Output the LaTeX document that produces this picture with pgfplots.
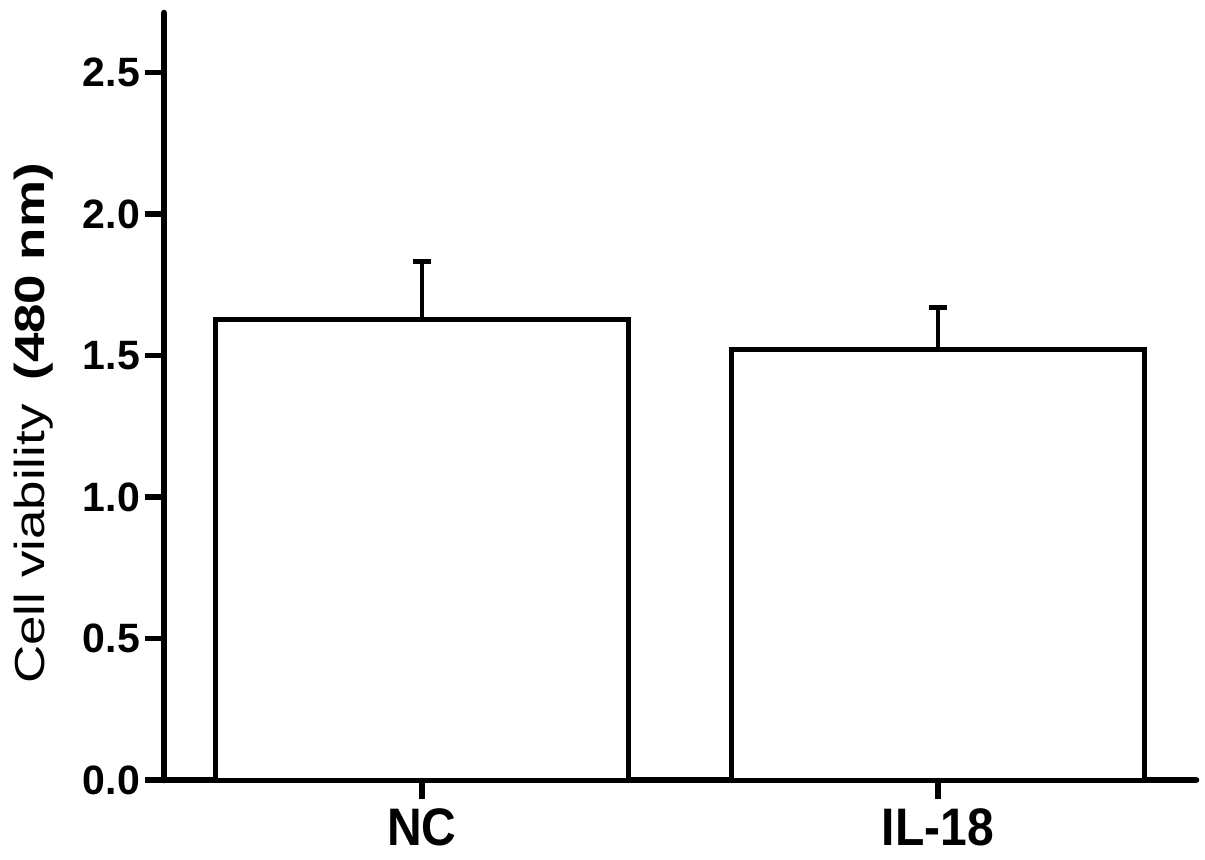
\documentclass[border=0pt]{standalone}
\usepackage{pgfplots}
\pgfplotsset{compat=1.18}
\usepackage{graphicx}
\usepackage{fontspec}
\setmainfont{Liberation Sans}
\begin{document}
\begin{tikzpicture}
\useasboundingbox (0,0) rectangle (602.5pt,429.5pt);
\begin{axis}[
  at={(82pt,39.5pt)}, anchor=south west,
  scale only axis, width=516pt, height=383.5pt,
  xmin=-0.5, xmax=1.5, ymin=0, ymax=2.71,
  axis x line*=bottom, axis y line*=left,
  axis line style={line width=3.3pt, line cap=round, -},
  xtick={0,1}, xticklabels={NC,IL-18},
  ytick={0,0.5,...,2.5},
  yticklabel style={/pgf/number format/fixed,/pgf/number format/fixed zerofill,/pgf/number format/precision=1,font=\fontsize{20.5pt}{24pt}\selectfont\bfseries, xshift=1pt},
  /pgf/number format/assume math mode=true,
  xticklabel style={font=\fontsize{24pt}{28pt}\selectfont\bfseries, yscale=1.1, yshift=-1pt},
  tick align=outside, major tick length=9.5pt,
  every tick/.style={line width=2.6pt, black},
  ylabel={\scalebox{1.26}[1]{Cell viability\hspace{0.45em}\textbf{(480 nm)}}},
  ylabel style={font=\fontsize{21pt}{24pt}\selectfont, at={(axis description cs:-0.126,0.465)}, anchor=center, rotate=0},
  ybar, bar width=0.8,
  clip=false,
]
\addplot[draw=black, fill=white, line width=2.5pt,
  error bars/.cd, y dir=plus, y explicit,
  error bar style={line width=2.2pt, black},
  error mark options={line width=2.2pt, black, mark size=4.5pt, rotate=90}]
  coordinates {(0,1.627) +- (0,0.205) (1,1.52) +- (0,0.15)};
\end{axis}
\end{tikzpicture}
\end{document}
